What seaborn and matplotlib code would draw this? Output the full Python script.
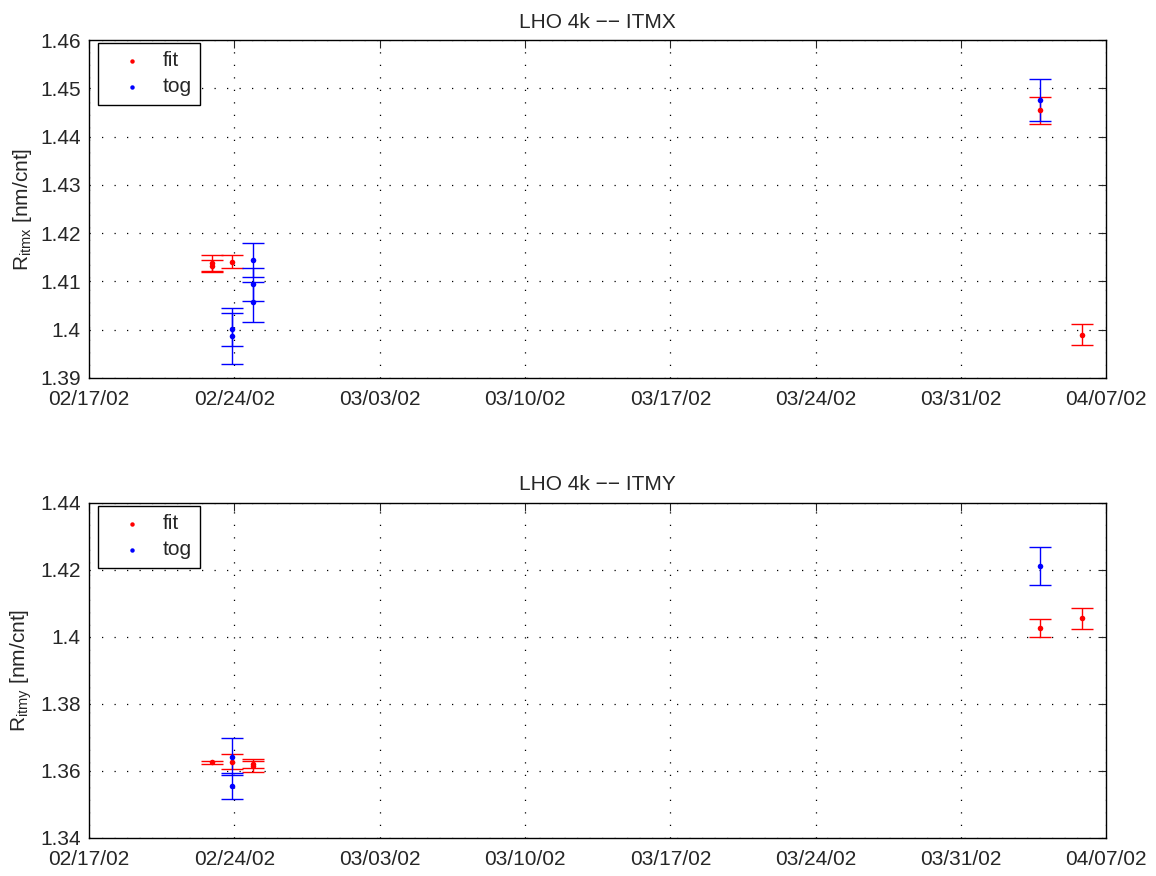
import pandas as pd
import matplotlib
matplotlib.use("Agg")
import matplotlib.pyplot as plt
import matplotlib.dates as mdates
import seaborn as sns

# measurement times (fit / tog) for each test mass
itmx_fit_t = ["2002-02-22 22:00", "2002-02-22 22:00", "2002-02-23 21:40",
              "2002-04-03 19:40", "2002-04-05 20:00"]
itmx_fit_v = [1.4138, 1.4132, 1.4141, 1.4455, 1.3990]
itmx_fit_e = [0.0017, 0.0012, 0.0013, 0.0028, 0.0021]

itmx_tog_t = ["2002-02-23 21:40", "2002-02-23 21:40", "2002-02-24 21:40",
              "2002-02-24 21:40", "2002-02-24 21:40", "2002-04-03 19:40"]
itmx_tog_v = [1.3987, 1.4001, 1.4144, 1.4094, 1.4057, 1.4476]
itmx_tog_e = [0.0059, 0.0034, 0.0035, 0.0034, 0.0042, 0.0044]

itmy_fit_t = ["2002-02-22 22:00", "2002-02-23 21:40", "2002-02-24 21:40",
              "2002-02-24 21:40", "2002-04-03 19:40", "2002-04-05 20:00"]
itmy_fit_v = [1.3626, 1.3628, 1.3620, 1.3616, 1.4027, 1.4056]
itmy_fit_e = [0.0005, 0.0022, 0.0011, 0.0020, 0.0028, 0.0032]

itmy_tog_t = ["2002-02-23 21:40", "2002-02-23 21:40", "2002-04-03 19:40"]
itmy_tog_v = [1.3643, 1.3555, 1.4212]
itmy_tog_e = [0.0055, 0.0039, 0.0058]

sns.set_style("white")
plt.rcParams["font.family"] = ["Liberation Sans", "DejaVu Sans"]
plt.rcParams["mathtext.default"] = "regular"

fig = plt.figure(figsize=(11.56, 8.76), dpi=100)
ax1 = fig.add_axes([0.077, 0.5685, 0.880, 0.3858])
ax2 = fig.add_axes([0.077, 0.0434, 0.880, 0.3824])


def panel(ax, fit, tog, title, ylabel, ylim, yticks):
    for (t, v, e), col, lab in [(fit, "red", "fit"), (tog, "blue", "tog")]:
        d = pd.DataFrame({"t": pd.to_datetime(t), "v": v, "e": e})
        ax.errorbar(d["t"], d["v"], yerr=d["e"], fmt="none", ecolor=col,
                    elinewidth=1, capsize=8, capthick=1, zorder=3)
        sns.scatterplot(data=d, x="t", y="v", ax=ax, color=col, marker="o",
                        s=16, edgecolor=col, linewidth=0, label=lab, zorder=4)
    ax.set_xlim(pd.Timestamp("2002-02-17"), pd.Timestamp("2002-04-07"))
    ax.set_xticks(pd.date_range("2002-02-17", "2002-04-07", freq="7D"))
    ax.xaxis.set_major_formatter(mdates.DateFormatter("%m/%d/%y"))
    ax.set_ylim(*ylim)
    ax.set_yticks(yticks)
    ax.set_yticklabels([f"{y:.2f}".rstrip("0") if f"{y:.2f}".endswith("0")
                        else f"{y:.2f}" for y in yticks])
    ax.set_xlabel("")
    ax.set_ylabel(ylabel, fontsize=15, labelpad=4)
    ax.set_title(title, fontsize=15, pad=9)
    ax.grid(True, color="black", linestyle=(0, (1, 9)), linewidth=0.9)
    ax.tick_params(direction="in", top=True, right=True, length=6,
                   labelsize=15)
    ax.tick_params(axis="x", pad=9)
    ax.tick_params(axis="y", pad=6)
    for s in ax.spines.values():
        s.set_color("black")
        s.set_linewidth(1)
    leg = ax.legend(loc="upper left", bbox_to_anchor=(0.009, 0.992),
                    borderaxespad=0, fontsize=15, fancybox=False,
                    edgecolor="black", framealpha=1, handletextpad=0.3,
                    borderpad=0.4, handlelength=2.4, labelspacing=0.35,
                    markerscale=0.8)
    leg.get_frame().set_linewidth(1)


panel(ax1, (itmx_fit_t, itmx_fit_v, itmx_fit_e),
      (itmx_tog_t, itmx_tog_v, itmx_tog_e),
      "LHO 4k \u2212\u2212 ITMX", "R$_{itmx}$ [nm/cnt]", (1.39, 1.46),
      [1.39, 1.40, 1.41, 1.42, 1.43, 1.44, 1.45, 1.46])
panel(ax2, (itmy_fit_t, itmy_fit_v, itmy_fit_e),
      (itmy_tog_t, itmy_tog_v, itmy_tog_e),
      "LHO 4k \u2212\u2212 ITMY", "R$_{itmy}$ [nm/cnt]", (1.34, 1.44),
      [1.34, 1.36, 1.38, 1.40, 1.42, 1.44])

plt.savefig("out.png", dpi=100)
